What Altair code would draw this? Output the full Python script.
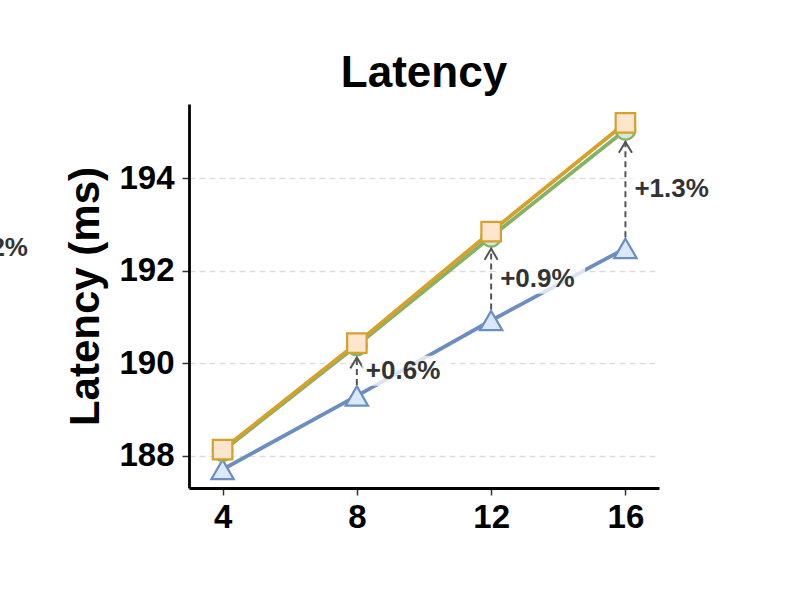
import altair as alt
import pandas as pd

x_vals = [4, 8, 12, 16]
base_vals = [187.70, 189.29, 190.92, 192.48]
mid_vals = [188.10, 190.38, 192.73, 195.04]
top_vals = [188.13, 190.43, 192.84, 195.19]
gain_x = [8, 12, 16]
gain_labels = ["+0.6%", "+0.9%", "+1.3%"]
y_ticks = [188, 190, 192, 194]

FONT = "Liberation Sans"
BLUE, BLUE_F = "#6c8ebf", "#dae8fc"
GREEN, GREEN_F = "#82b366", "#d5e8d4"
ORANGE, ORANGE_F = "#d6a02c", "#fde6cc"

df = pd.DataFrame({"x": x_vals, "base": base_vals, "mid": mid_vals, "top": top_vals})
ann = pd.DataFrame({
    "x": gain_x,
    "lo": [base_vals[x_vals.index(v)] for v in gain_x],
    "hi": [mid_vals[x_vals.index(v)] for v in gain_x],
    "label": gain_labels,
})
ann["ymid"] = (ann["lo"] + ann["hi"]) / 2

xs = alt.Scale(domain=[3, 17], nice=False, zero=False)
ys = alt.Scale(domain=[187.3, 195.6], nice=False, zero=False)

X = alt.X("x:Q", scale=xs, axis=alt.Axis(values=x_vals, title=None, grid=False, format="d"))

def line(col, color):
    return alt.Chart(df).mark_line(color=color, strokeWidth=3.8).encode(
        x=X, y=alt.Y(f"{col}:Q", scale=ys)
    )

def pts(col, shape, stroke, fill, size):
    return alt.Chart(df).mark_point(shape=shape, filled=True, fill=fill, stroke=stroke,
                                    strokeWidth=2.2, size=size, opacity=1).encode(
        x=X, y=alt.Y(f"{col}:Q", scale=ys)
    )

yaxis = alt.Axis(values=y_ticks, title="Latency (ms)", grid=True, gridDash=[6, 4],
                 gridColor="#dddddd", gridWidth=1.3, titleX=-104, titleY=192,
                 titleBaseline="middle", titleAngle=-90, titleAlign="center")

base_line = alt.Chart(df).mark_line(color=BLUE, strokeWidth=3.8).encode(
    x=X, y=alt.Y("base:Q", scale=ys, axis=yaxis)
)

rule = alt.Chart(ann).mark_rule(color="#555555", strokeWidth=2, strokeDash=[6, 4],
                                yOffset=-11, y2Offset=11).encode(
    x=X, y=alt.Y("lo:Q", scale=ys), y2="hi:Q"
)

head = alt.Chart(ann).mark_point(shape="M-0.3,1.05 L0,0.55 L0.3,1.05", filled=False,
                                 stroke="#555555", strokeWidth=2, size=1900, opacity=1).encode(
    x=X, y=alt.Y("hi:Q", scale=ys)
)

bg = alt.Chart(ann).mark_rect(color="white", opacity=0.75, xOffset=5, x2Offset=94,
                              yOffset=15, y2Offset=-15).encode(
    x=X, x2="x:Q", y=alt.Y("ymid:Q", scale=ys), y2="ymid:Q"
)

txt = alt.Chart(ann).mark_text(align="left", baseline="middle", dx=9, font=FONT,
                               fontWeight="bold", fontSize=26, color="#333333").encode(
    x=X, y=alt.Y("ymid:Q", scale=ys), text="label:N"
)

side = alt.Chart(pd.DataFrame({"t": ["+1.2%"]})).mark_text(
    align="right", baseline="middle", font=FONT, fontWeight="bold", fontSize=26, color="#333333"
).encode(x=alt.value(28 - 189), y=alt.value(248 - 104), text="t:N")

chart = alt.layer(
    base_line, pts("base", "triangle-up", BLUE, BLUE_F, 500),
    line("mid", GREEN), pts("mid", "circle", GREEN, GREEN_F, 380),
    line("top", ORANGE), pts("top", "square", ORANGE, ORANGE_F, 380),
    rule, head, bg, txt, side,
).properties(
    width=470, height=384,
    title=alt.TitleParams("Latency", font=FONT, fontSize=44, fontWeight="bold",
                          color="black", offset=8, anchor="middle"),
    autosize=alt.AutoSizeParams(type="none"),
    padding={"left": 189, "top": 104, "right": 127, "bottom": 118},
).configure_view(stroke=None).configure_axis(
    labelFont=FONT, labelFontWeight="bold", labelFontSize=33, labelColor="black",
    titleFont=FONT, titleFontWeight="bold", titleFontSize=42, titleColor="black",
    domainColor="black", domainWidth=2.8, tickColor="#333333", tickWidth=1.5, tickSize=7,
    labelPadding=8,
).configure_axisX(labelPadding=6)

chart.save("out.html", embed_options={"renderer": "svg", "actions": False})
